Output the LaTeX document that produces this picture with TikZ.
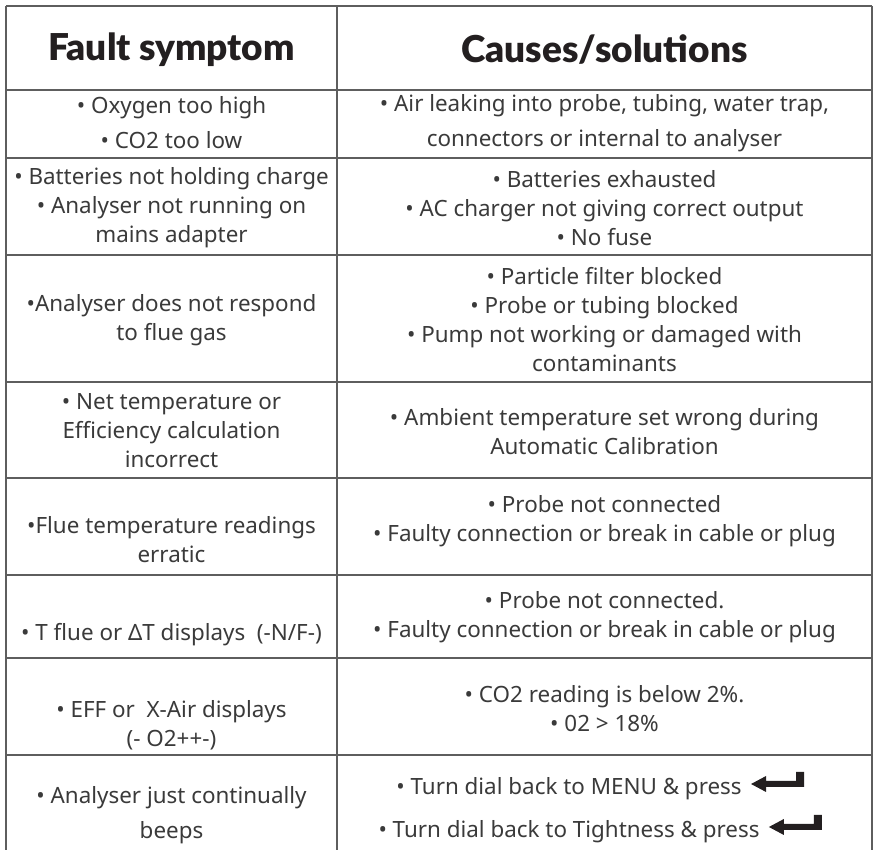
\documentclass[tikz,border=0pt]{standalone}
\usepackage{fontspec}
\setmainfont{Noto Sans}
\newfontfamily\headfont{Lato Black}
\usetikzlibrary{positioning}
\definecolor{gridgray}{HTML}{5E5E5E}
\definecolor{txtgray}{HTML}{3A3A3A}
\definecolor{keyblack}{HTML}{231F20}

\begin{document}
\begin{tikzpicture}[
  x=0.5pt, y=-0.5pt,
  gridline/.style={draw=gridgray, line width=1pt},
  head/.style={inner sep=0pt, text=keyblack, font=\headfont\fontsize{18.5}{20}\selectfont},
  cell/.style={align=center, inner sep=0pt, text=txtgray, font=\fontsize{11.2}{14.5}\selectfont},
  widecell/.style={cell, font=\fontsize{11.2}{17.5}\selectfont},
  retkey/.pic={
    \fill[keyblack] (9,-11) -- (24,-19) -- (24,-14) -- (54,-14) -- (54,-23)
      -- (62,-23) -- (62,-8) -- (24,-8) -- (24,-3) -- cycle;
  }
]
  \useasboundingbox (0,0) rectangle (875,850);

  % table rules
  \foreach \y in {6,90,158,255,382,478,575,658,755}
    \draw[gridline] (6,\y) -- (872,\y);
  \foreach \x in {6,337,872}
    \draw[gridline] (\x,6) -- (\x,850);

  % header
  \node[head] (hsym) at (171.5,50) {Fault symptom};
  \node[head] (hcau) at (604.5,50) {Causes/solutions};

  % fault symptoms
  \node[widecell] (sym1) at (171.5,123) {• Oxygen too high\\• CO2 too low};
  \node[cell] (sym2) at (171.5,208) {• Batteries not holding charge\\• Analyser not running on\\mains adapter};
  \node[cell] (sym3) at (171.5,320) {•Analyser does not respond\\to flue gas};
  \node[cell] (sym4) at (171.5,431) {• Net temperature or\\Efficiency calculation\\incorrect};
  \node[cell] (sym5) at (171.5,540) {•Flue temperature readings\\erratic};
  \node[cell] (sym6) at (171.5,635) {• T flue or ΔT displays\ \ (-N/F-)};
  \node[cell] (sym7) at (171.5,725) {• EFF or\ \ X-Air displays\\(- O2++-)};
  \node[widecell] (sym8) at (171.5,815) {• Analyser just continually\\beeps};

  % causes and solutions
  \node[widecell] (cau1) at (604.5,123) {• Air leaking into probe, tubing, water trap,\\connectors or internal to analyser};
  \node[cell] (cau2) at (604.5,208) {• Batteries exhausted\\• AC charger not giving correct output\\• No fuse};
  \node[cell] (cau3) at (604.5,320) {• Particle filter blocked\\• Probe or tubing blocked\\• Pump not working or damaged with\\contaminants};
  \node[cell] (cau4) at (604.5,432) {• Ambient temperature set wrong during\\Automatic Calibration};
  \node[cell] (cau5) at (604.5,521) {• Probe not connected\\• Faulty connection or break in cable or plug};
  \node[cell] (cau6) at (604.5,617) {• Probe not connected.\\• Faulty connection or break in cable or plug};
  \node[cell] (cau7) at (604.5,709) {• CO2 reading is below 2\%.\\• 02 > 18\%};
  \node[cell, anchor=base] (menu) at (569,795) {• Turn dial back to MENU \& press};
  \node[cell, anchor=base] (tight) at (569,838) {• Turn dial back to Tightness \& press};
  \pic at (menu.base east) {retkey};
  \pic at (tight.base east) {retkey};
\end{tikzpicture}
\end{document}
